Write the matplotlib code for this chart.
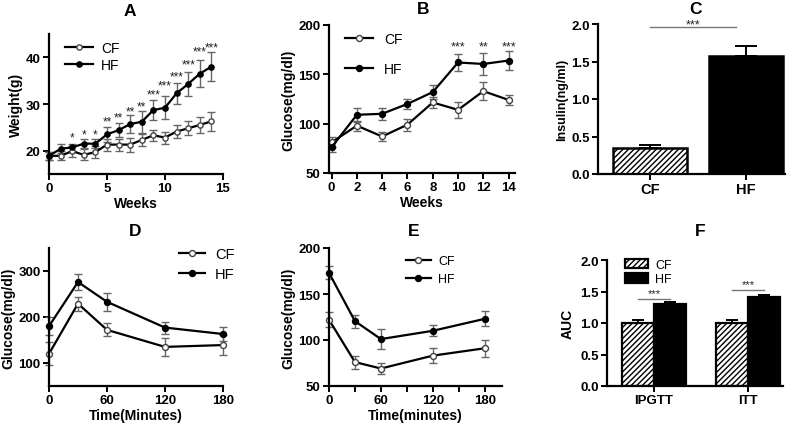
import numpy as np
import matplotlib
matplotlib.use('Agg')
import matplotlib.pyplot as plt
from matplotlib.ticker import MultipleLocator

plt.rcParams['font.family'] = ['Liberation Sans', 'DejaVu Sans']
plt.rcParams['hatch.linewidth'] = 1.0
plt.rcParams['hatch.color'] = '#444444'

# --- A: body weight ---
weeks_a = list(range(15))
cf_a = [18.9, 18.9, 19.9, 19.1, 19.7, 21.3, 21.3, 21.3, 22.3, 23.3, 22.8, 24.1, 24.8, 25.5, 26.3]
cf_a_err = [0.8, 1.0, 1.2, 1.2, 1.2, 1.3, 1.3, 1.5, 1.3, 1.2, 1.3, 1.4, 1.5, 1.8, 2.0]
hf_a = [18.9, 20.4, 20.7, 21.5, 21.5, 23.5, 24.4, 25.7, 26.2, 28.7, 29.2, 32.3, 34.3, 36.5, 38.0]
hf_a_err = [0.8, 1.0, 0.8, 1.0, 1.0, 1.6, 1.5, 2.0, 2.4, 2.1, 2.5, 2.2, 2.6, 2.9, 3.1]
stars_a_x = [2, 3, 4, 5, 6, 7, 8, 9, 10, 11, 12, 13, 14]
stars_a = ['*', '*', '*', '**', '**', '**', '**', '***', '***', '***', '***', '***', '***']
stars_a_y = [22.9, 23.4, 23.4, 26.3, 27.2, 28.3, 29.4, 32.0, 34.0, 36.0, 38.5, 41.2, 42.2]

# --- B: fasting glucose ---
weeks_b = [0, 2, 4, 6, 8, 10, 12, 14]
cf_b = [81, 98, 87, 99, 121.5, 114, 133, 124]
cf_b_err = [5, 5, 5, 6, 6, 8, 9, 5]
hf_b = [76, 109, 110, 120, 132, 162, 160.5, 164]
hf_b_err = [5, 7, 6, 5, 7, 8.5, 11, 10]
stars_b_x = [10, 12, 14]
stars_b = ['***', '**', '***']

# --- C: insulin ---
groups_c = ['CF', 'HF']
insulin = [0.35, 1.58]
insulin_err = [0.035, 0.13]

# --- D: IPGTT ---
time_d = [0, 30, 60, 120, 180]
cf_d = [120, 229, 172, 135, 139]
cf_d_err = [25, 15, 14, 20, 22]
hf_d = [180, 276, 233, 177, 163]
hf_d_err = [20, 18, 19, 13, 16]

# --- E: ITT ---
time_e = [0, 30, 60, 120, 180]
cf_e = [122, 76, 69, 83, 91]
cf_e_err = [8, 7, 6, 8, 9]
hf_e = [173, 120.5, 101, 110, 123]
hf_e_err = [7, 7, 11, 6, 8]

# --- F: AUC ---
tests_f = ['IPGTT', 'ITT']
auc_cf = [1.0, 1.0]
auc_cf_err = [0.04, 0.04]
auc_hf = [1.30, 1.41]
auc_hf_err = [0.03, 0.04]

W, H = 800, 427
fig = plt.figure(figsize=(8, 4.27), dpi=100)


def make_ax(l, r, b, t):
    return fig.add_axes([l / W, 1 - b / H, (r - l) / W, (b - t) / H])


def style(ax):
    for s in ['top', 'right']:
        ax.spines[s].set_visible(False)
    for s in ['left', 'bottom']:
        ax.spines[s].set_linewidth(1.6)
    ax.tick_params(which='both', direction='out', length=4, width=1.4,
                   labelsize=9.5, pad=2)
    for lab in ax.get_xticklabels() + ax.get_yticklabels():
        lab.set_fontweight('bold')


def lines(ax, x, cf, cfe, hf, hfe, ms=4.3):
    ln_cf = ax.errorbar(x, cf, yerr=cfe, fmt='-o', color='black', lw=1.6, ms=ms,
                        mfc='white', mec='#444444', mew=1.0, ecolor='#666666',
                        elinewidth=1.0, capsize=3, capthick=1.0, clip_on=False)
    ln_hf = ax.errorbar(x, hf, yerr=hfe, fmt='-o', color='black', lw=1.6, ms=ms,
                        mfc='black', mec='black', ecolor='#666666',
                        elinewidth=1.0, capsize=3, capthick=1.0, clip_on=False)
    return ln_cf[0], ln_hf[0]


def letter(x, y, s):
    fig.text(x / W, 1 - y / H, s, ha='center', va='center', fontsize=12.5, fontweight='bold')


# A
ax = make_ax(49, 223, 175, 35)
h1, h2 = lines(ax, weeks_a, cf_a, cf_a_err, hf_a, hf_a_err, ms=3.8)
ax.set_xlim(0, 15)
ax.set_ylim(15, 45)
ax.set_xticks([0, 5, 10, 15])
ax.set_yticks([20, 30, 40])
for x, s, y in zip(stars_a_x, stars_a, stars_a_y):
    ax.text(x, y, s, ha='center', va='center', fontsize=8.5, color='#222222')
ax.legend([h1, h2], ['CF', 'HF'], loc='upper left', bbox_to_anchor=(0.02, 1.04),
          frameon=False, fontsize=10, handlelength=2.0, labelspacing=0.2,
          handletextpad=0.6)
ax.set_xlabel('Weeks', fontsize=10, fontweight='bold', labelpad=1)
ax.set_ylabel('Weight(g)', fontsize=10, fontweight='bold', labelpad=2)
style(ax)
letter(130, 12, 'A')

# B
ax = make_ax(329, 515, 174, 26)
h1, h2 = lines(ax, weeks_b, cf_b, cf_b_err, hf_b, hf_b_err)
ax.set_xlim(-0.2, 14.5)
ax.set_ylim(50, 200)
ax.set_xticks(weeks_b)
ax.set_yticks([50, 100, 150, 200])
for x, s in zip(stars_b_x, stars_b):
    ax.text(x, 178, s, ha='center', va='center', fontsize=9, color='#222222')
ax.legend([h1, h2], ['CF', 'HF'], loc='upper left', bbox_to_anchor=(0.02, 1.04),
          frameon=False, fontsize=10, handlelength=2.0, labelspacing=1.15,
          handletextpad=0.8)
ax.set_xlabel('Weeks', fontsize=10, fontweight='bold', labelpad=1)
ax.set_ylabel('Glucose(mg/dl)', fontsize=10, fontweight='bold', labelpad=2)
style(ax)
letter(423, 10, 'B')

# C
ax = make_ax(598, 785, 175, 25)
xc = np.arange(len(groups_c))
ax.bar(xc[0], insulin[0], 0.77, color='white', edgecolor='black', lw=1.8, hatch='//////',
       yerr=[[0], [insulin_err[0]]], capsize=8, error_kw=dict(lw=1.4, capthick=1.4))
ax.bar(xc[1], insulin[1], 0.77, color='black', edgecolor='black', lw=1.8,
       yerr=[[0], [insulin_err[1]]], capsize=8, error_kw=dict(lw=1.4, capthick=1.4))
ax.set_xlim(-0.54, 1.41)
ax.set_ylim(0, 2.0)
ax.set_xticks(xc)
ax.set_xticklabels(groups_c)
ax.set_yticks([0.0, 0.5, 1.0, 1.5, 2.0])
ax.set_yticklabels(['0.0', '0.5', '1.0', '1.5', '2.0'])
ax.plot([0, 0.9], [1.965, 1.965], color='#777777', lw=1.0, clip_on=False)
ax.text(0.45, 1.99, '***', ha='center', va='center', fontsize=9, color='#222222')
ax.set_ylabel('Insulin(ng/ml)', fontsize=9, fontweight='bold', labelpad=2)
style(ax)
ax.tick_params(axis='x', labelsize=10.5)
for lab in ax.get_xticklabels():
    lab.set_fontweight('bold')
letter(695, 10, 'C')

# D
ax = make_ax(49, 223, 387, 249)
h1, h2 = lines(ax, time_d, cf_d, cf_d_err, hf_d, hf_d_err)
ax.set_xlim(0, 180)
ax.set_ylim(50, 350)
ax.set_xticks([0, 60, 120, 180])
ax.set_yticks([100, 200, 300])
ax.legend([h1, h2], ['CF', 'HF'], loc='upper left', bbox_to_anchor=(0.67, 1.1),
          frameon=False, fontsize=10.5, handlelength=1.8, labelspacing=0.4,
          handletextpad=0.7)
ax.set_xlabel('Time(Minutes)', fontsize=10, fontweight='bold', labelpad=1)
ax.set_ylabel('Glucose(mg/dl)', fontsize=10, fontweight='bold', labelpad=2)
style(ax)
letter(135, 231, 'D')

# E
ax = make_ax(329, 502, 387, 249)
h1, h2 = lines(ax, time_e, cf_e, cf_e_err, hf_e, hf_e_err)
ax.set_xlim(0, 200)
ax.set_ylim(50, 200)
ax.set_xticks([0, 60, 120, 180])
ax.xaxis.set_minor_locator(MultipleLocator(30))
ax.set_yticks([50, 100, 150, 200])
ax.legend([h1, h2], ['CF', 'HF'], loc='upper left', bbox_to_anchor=(0.38, 1.03),
          frameon=False, fontsize=9, handlelength=2.0, labelspacing=0.5,
          handletextpad=0.6)
ax.set_xlabel('Time(minutes)', fontsize=10, fontweight='bold', labelpad=1)
ax.set_ylabel('Glucose(mg/dl)', fontsize=10, fontweight='bold', labelpad=2)
style(ax)
letter(414, 231, 'E')

# F
ax = make_ax(607, 783, 387, 261)
xf = np.arange(len(tests_f))
bw = 0.34
b1 = ax.bar(xf - bw / 2, auc_cf, bw, color='white', edgecolor='black', lw=1.6, hatch='//////',
            yerr=[[0, 0], auc_cf_err], capsize=4, error_kw=dict(lw=1.4, capthick=1.4))
b2 = ax.bar(xf + bw / 2, auc_hf, bw, color='black', edgecolor='black', lw=1.6,
            yerr=[[0, 0], auc_hf_err], capsize=4, error_kw=dict(lw=1.4, capthick=1.4))
ax.set_xlim(-0.5, 1.37)
ax.set_ylim(0, 2.0)
ax.set_xticks(xf)
ax.set_xticklabels(tests_f)
ax.set_yticks([0.0, 0.5, 1.0, 1.5, 2.0])
ax.set_yticklabels(['0.0', '0.5', '1.0', '1.5', '2.0'])
sig_y = [1.38, 1.52]
for x, y in zip(xf, sig_y):
    ax.plot([x - bw / 2, x + bw / 2], [y, y], color='#777777', lw=1.0)
    ax.text(x, y + 0.1, '***', ha='center', va='center', fontsize=8, color='#222222')
ax.legend([b1, b2], ['CF', 'HF'], loc='upper left', bbox_to_anchor=(0.04, 1.1),
          frameon=False, fontsize=9, handlelength=1.8, handleheight=0.8,
          labelspacing=0.2, handletextpad=0.6)
ax.set_ylabel('AUC', fontsize=10, fontweight='bold', labelpad=4)
style(ax)
letter(700, 231, 'F')

fig.savefig('out.png', dpi=100)
